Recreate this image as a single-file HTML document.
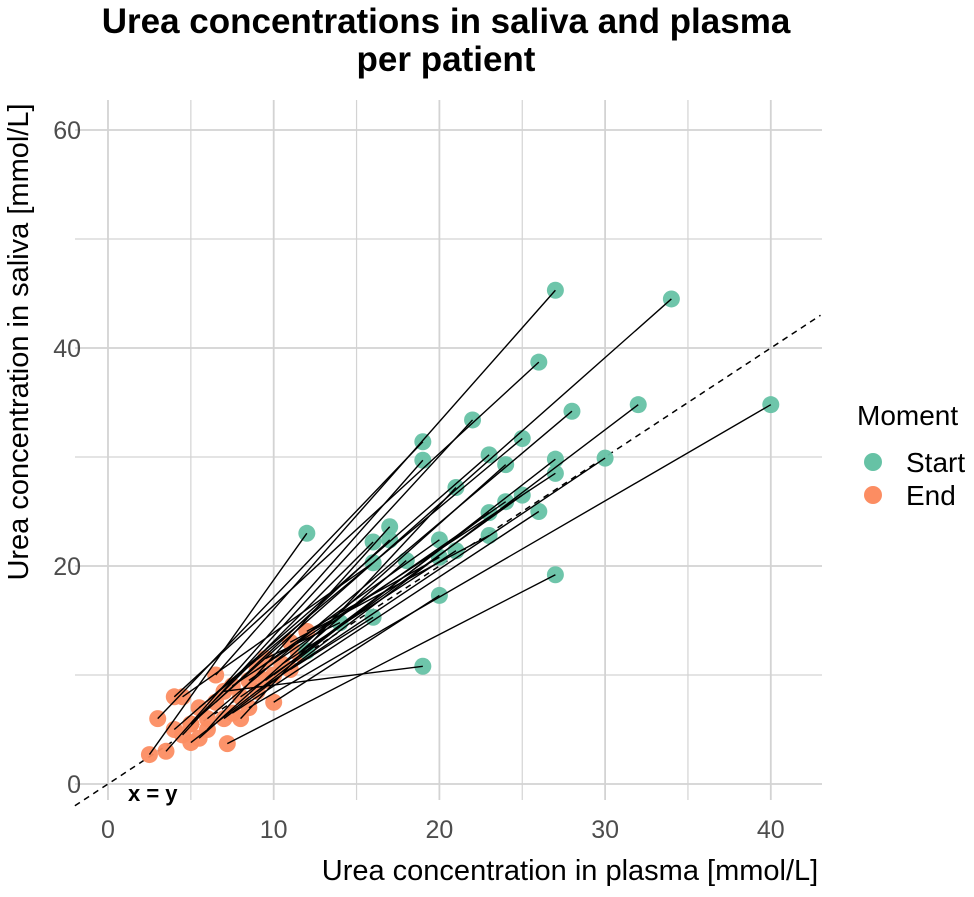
<!DOCTYPE html>
<html><head><meta charset="utf-8"><style>
body{margin:0;background:#fff;}
svg text{font-family:"Liberation Sans",sans-serif;}
</style></head><body>
<svg id="chart" width="974" height="892" viewBox="0 0 974 892">
<text x="446" y="33" text-anchor="middle" font-size="35" font-weight="bold" fill="#000">Urea concentrations in saliva and plasma</text>
<text x="446" y="71" text-anchor="middle" font-size="35" font-weight="bold" fill="#000">per patient</text>
<g id="grid"></g><g id="marks"></g><g id="axes"></g>
<text x="570" y="880" text-anchor="middle" font-size="29" fill="#000">Urea concentration in plasma [mmol/L]</text>
<text transform="translate(28,342) rotate(-90)" text-anchor="middle" font-size="29" fill="#000">Urea concentration in saliva [mmol/L]</text>
<g>
<text x="857" y="425" font-size="28" fill="#000">Moment</text>
<circle cx="873" cy="462" r="9" fill="#66c2a5"/>
<text x="906" y="472" font-size="28" fill="#000">Start</text>
<circle cx="873" cy="495" r="9" fill="#fc8d62"/>
<text x="906" y="505" font-size="28" fill="#000">End</text>
</g>
</svg>
<script>
const xTicks=[0,10,20,30,40];
const yTicks=[0,20,40,60];
const startX=[27,34,26,32,40,28,19,22,25,19,23,27,30,24,27,21,25,24,23,26,17,12,17,20,16,23,21,16,18,20,27,20,16,14,12,19];
const startY=[45.3,44.5,38.7,34.8,34.8,34.2,31.4,33.4,31.7,29.7,30.2,29.8,29.9,29.3,28.5,27.2,26.5,25.9,24.9,25,23.6,23,22.4,22.4,22.2,22.8,21.4,20.3,20.5,20.8,19.2,17.3,15.3,14.8,12.2,10.8];
const endX=[6.5,5,4,7,8.5,6,3,4.5,5.5,3.5,4,5,9,5.5,7.5,8,9.5,8.5,10,7.5,6,2.5,6.5,9,5,11,10.5,4.5,11.5,12,7.2,10,11,9.5,8,7];
const endY=[10,5.5,8,6,7,6,6,4.5,7,3,5,3.8,8.5,4.2,9,6,9.5,9.5,10,6.5,5,2.7,7.5,10.5,5.5,13,11,8,12,14,3.7,7.5,10.5,11.5,8,8.5];
const NS="http://www.w3.org/2000/svg";
const x0=108,xs=16.57,y0=784,ys=10.9;
const sx=v=>x0+v*xs, sy=v=>y0-v*ys;
const L=75,R=822,T=100,B=800;
function mk(tag,attrs,parent){const e=document.createElementNS(NS,tag);for(const k in attrs)e.setAttribute(k,attrs[k]);parent.appendChild(e);return e;}
const grid=document.getElementById('grid'),marks=document.getElementById('marks'),axes=document.getElementById('axes');
for(let v=0;v<=45;v+=5){const p=sx(v);if(p>R)break;
 const g=mk('line',{x1:p,x2:p,y1:T,y2:B,stroke:'#d3d3d3','stroke-width':v%10===0?1.8:1.2},grid);
 
 }
for(let v=0;v<=65;v+=10){const p=sy(v);if(p<T)break;
 const g=mk('line',{x1:L,x2:R,y1:p,y2:p,stroke:'#d3d3d3','stroke-width':v%20===0?1.8:1.2},grid);
 
 }
xTicks.forEach(v=>{const t=mk('text',{x:sx(v),y:838,'text-anchor':'middle','font-size':25,fill:'#4d4d4d'},axes);t.textContent=v;
 
 });
yTicks.forEach(v=>{const t=mk('text',{x:81,y:sy(v)+9,'text-anchor':'end','font-size':25,fill:'#4d4d4d'},axes);t.textContent=v;
 
 });
const d=mk('line',{x1:sx(-2),y1:sy(-2),x2:sx(43),y2:sy(43),stroke:'#000','stroke-width':1.5,'stroke-dasharray':'6,5'},marks);


const xy=mk('text',{x:128,y:801,'font-size':22,'font-weight':'bold',fill:'#000'},marks);xy.textContent='x = y';


for(let i=0;i<startX.length;i++){
 const c=mk('circle',{cx:sx(startX[i]),cy:sy(startY[i]),r:8.5,fill:'#66c2a5','fill-opacity':0.95},marks);
 
 
 const e=mk('circle',{cx:sx(endX[i]),cy:sy(endY[i]),r:8.5,fill:'#fc8d62','fill-opacity':0.95},marks);
 
 }
for(let i=0;i<startX.length;i++){
 const l=mk('line',{x1:sx(startX[i]),y1:sy(startY[i]),x2:sx(endX[i]),y2:sy(endY[i]),stroke:'#000','stroke-width':1.4},marks);
 
 }
</script>
</body></html>
